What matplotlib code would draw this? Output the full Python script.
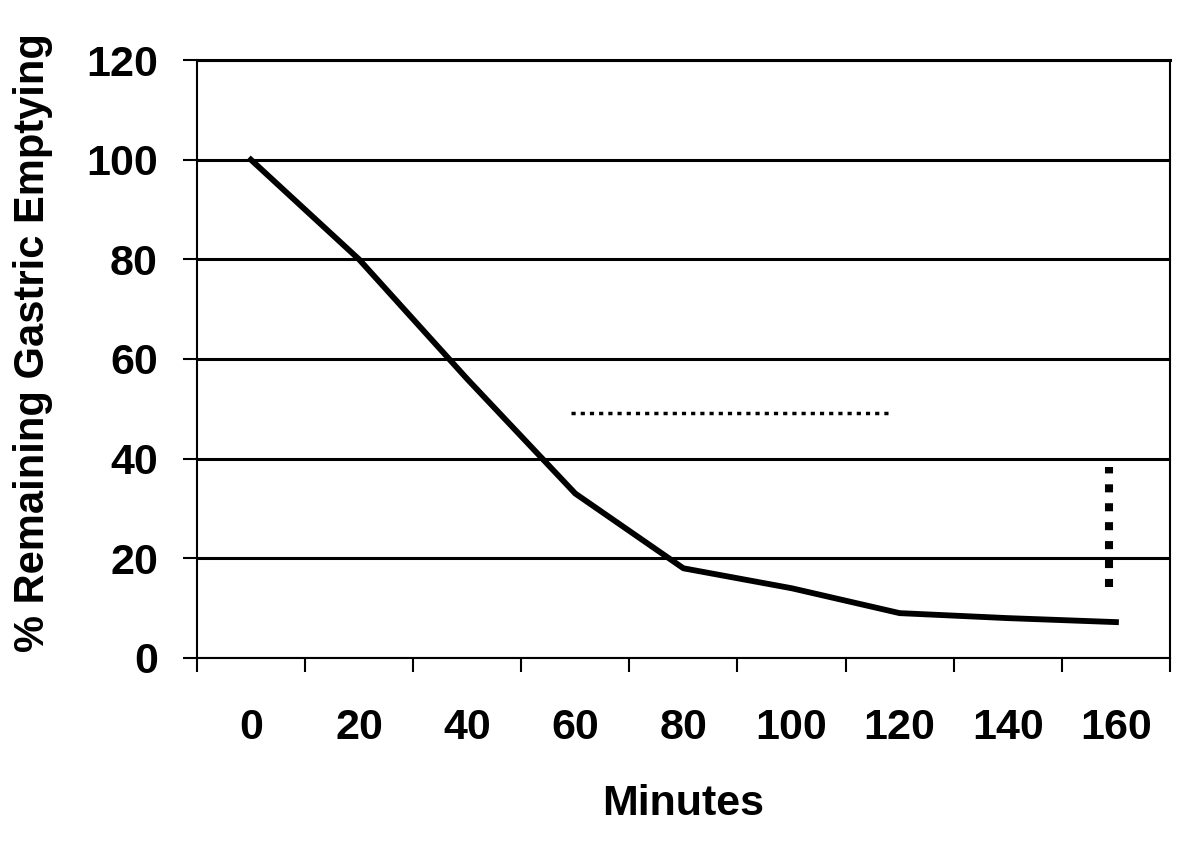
import numpy as np
from matplotlib import pyplot as plt

plt.rcParams.update({'font.family': 'Liberation Sans', 'font.weight': 'bold',
                     'axes.labelweight': 'bold', 'font.size': 31})

## Data
minutes = ['0', '20', '40', '60', '80', '100', '120', '140', '160']
remaining = [100, 80, 56, 33, 18, 14, 9, 8, 7.2]

# dotted annotation lines (category index units / % units)
half_x = [2.96, 5.91]
half_y = [49.2, 49.2]
spread_x = [7.94, 7.94]
spread_y = [14.2, 38.3]

fig = plt.figure(figsize=(12, 8.44), dpi=100)
ax = fig.add_axes([0.164, 0.2204, 0.811, 0.7085])

pos = np.arange(len(minutes))
ax.plot(pos, remaining, color='k', lw=4.2, solid_joinstyle='round')
ax.plot(half_x, half_y, color='k', lw=2.5, linestyle=(0, (1.2, 1.45)),
        dash_capstyle='butt')
ax.plot(spread_x, spread_y, color='k', lw=5.8, linestyle=(0, (1.0, 1.35)),
        dash_capstyle='butt')

ax.set_ylim(0, 120)
ax.set_yticks(np.arange(0, 121, 20))
ax.yaxis.grid(True, color='k', lw=2.2)
ax.set_axisbelow(True)

# Excel-style category axis: ticks between categories, labels centred
ax.set_xlim(-0.5, len(minutes) - 0.5)
ax.set_xticks(np.arange(-0.5, len(minutes)))
ax.set_xticklabels([])
ax.set_xticks(pos, minor=True)
ax.set_xticklabels(minutes, minor=True)
ax.tick_params(axis='x', which='major', direction='out', length=10, width=1.5)
ax.tick_params(axis='x', which='minor', length=0, pad=36)
ax.tick_params(axis='y', direction='out', length=10, width=1.5, pad=18)

for s in ax.spines.values():
    s.set_linewidth(1.5)
ax.spines['top'].set_linewidth(2.2)

ax.set_xlabel('Minutes', fontsize=31, labelpad=26)
ax.set_ylabel('% Remaining Gastric Emptying', fontsize=30)
ax.yaxis.set_label_coords(-0.148, 0.528)

fig.savefig('out.png', dpi=100)
